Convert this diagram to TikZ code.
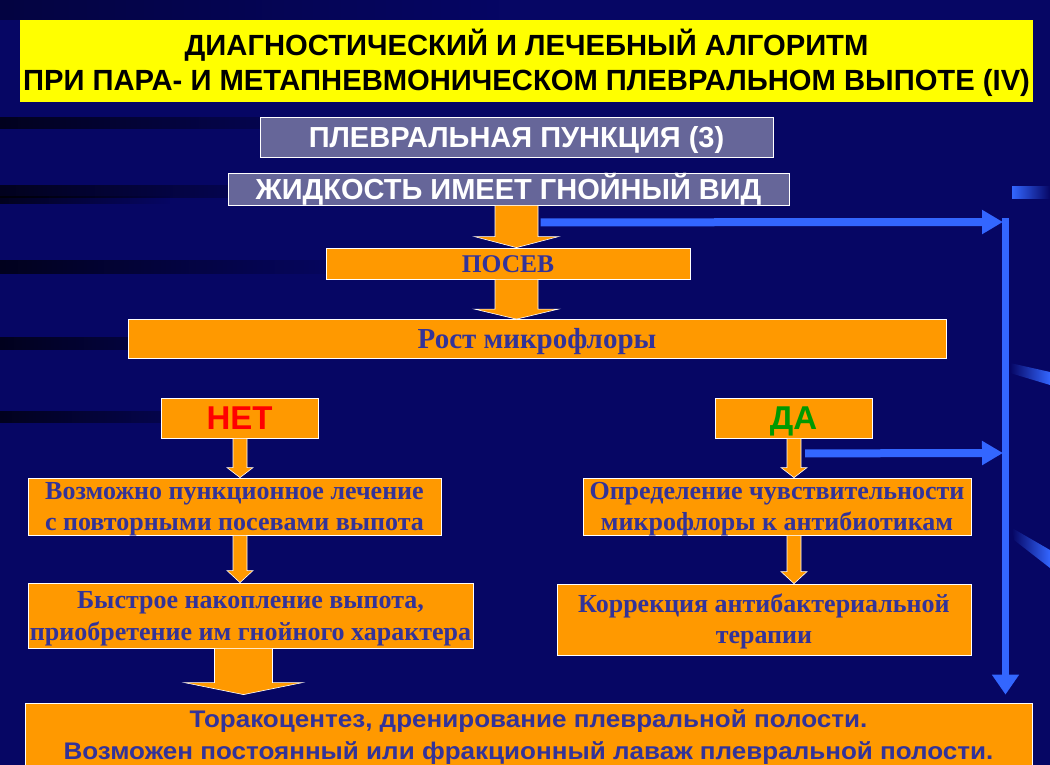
\documentclass[tikz,border=0pt]{standalone}
\usepackage{fontspec}
\usetikzlibrary{calc,arrows.meta,fadings}
\newfontfamily\hsans{Liberation Sans}
\newfontfamily\hsanswide[FakeStretch=1.085]{Liberation Sans}
\newfontfamily\hserif{Liberation Serif}
\definecolor{bgnavy}{RGB}{6,6,100}
\definecolor{orng}{RGB}{255,153,0}
\definecolor{dkblue}{RGB}{51,51,153}
\definecolor{grbox}{RGB}{102,102,153}
\definecolor{arblue}{RGB}{51,102,255}
\definecolor{ttlyellow}{RGB}{255,255,0}
\definecolor{yesgreen}{RGB}{0,153,0}
\tikzset{
  titlebox/.style={fill=ttlyellow, draw=none, inner sep=0pt, align=center, text=black,
    font=\hsans\bfseries\fontsize{29.2}{35}\selectfont, text height=60pt, text depth=0pt},
  graybox/.style={fill=grbox, draw=white, line width=0.8pt, inner sep=0pt, text=white,
    font=\hsans\bfseries\fontsize{29}{30}\selectfont, text height=21pt, text depth=0pt},
  orbox/.style={fill=orng, draw=white, line width=0.8pt, inner sep=0pt, align=center, text=dkblue,
    font=\hserif\bfseries\fontsize{26}{31}\selectfont, text height=48pt, text depth=0pt},
  orone/.style={orbox, text height=17pt, text depth=0pt},
  yesno/.style={orbox, font=\hsans\bfseries\fontsize{33}{33}\selectfont, text height=23.6pt, text depth=0pt},
  finalbox/.style={orbox, font=\hsanswide\bfseries\fontsize{24}{32}\selectfont, text height=46pt, text depth=0pt},
  arrowfill/.style={fill=orng, draw=white, line width=0.6pt, line join=miter},
  bluearrow/.style={draw=arblue, line width=8pt, -{Triangle[length=21pt,width=23pt]}},
  blueline/.style={draw=arblue, line width=7pt, -{Triangle[length=20pt,width=26pt]}},
}
% block arrow: #1 start point, #2 tip point, #3 shaft half width, #4 head half width, #5 head length
\newcommand\blockarrow[5]{%
  \path[arrowfill] let \p1=#1, \p2=#2 in
    (\x2-#3,\y1) -- (\x2+#3,\y1) -- (\x2+#3,\y2+#5) -- (\x2+#4,\y2+#5) -- (\x2,\y2)
    -- (\x2-#4,\y2+#5) -- (\x2-#3,\y2+#5) -- cycle;}
\begin{document}
\begin{tikzpicture}[x=1pt,y=-1pt]
\useasboundingbox (0,0) rectangle (1050,765);
\fill[bgnavy] (0,0) rectangle (1050,765);
% background streaks
\foreach \yy/\ww/\ln in {123/12/380, 192/13/330, 267/14/360, 343/13/290, 417/12/250, 200/8/170} {
  \fill[black, opacity=0.7, path fading=east] (0,\yy-\ww/2) rectangle (\ln,\yy+\ww/2);
}
\fill[black, opacity=0.35, path fading=east] (0,0) rectangle (500,20);
% decorative swooshes at the right edge
\shade[left color=arblue, right color=bgnavy] (1012,187) rectangle (1050,198);
\shade[left color=bgnavy, right color=arblue] (1010,363) -- (1050,372) -- (1050,385) -- (1010,373) -- cycle;
\shade[left color=bgnavy, right color=arblue] (1012,528) -- (1050,550) -- (1050,568) -- (1014,540) -- cycle;

% nodes
\node[titlebox, minimum width=1013, minimum height=82] (title) at (526.5,61)
  {ДИАГНОСТИЧЕСКИЙ И ЛЕЧЕБНЫЙ АЛГОРИТМ\\ПРИ ПАРА- И МЕТАПНЕВМОНИЧЕСКОМ ПЛЕВРАЛЬНОМ ВЫПОТЕ (IV)};
\node[graybox, minimum width=513, minimum height=40] (punc) at (516.5,137) {ПЛЕВРАЛЬНАЯ ПУНКЦИЯ (3)};
\node[graybox, minimum width=561, minimum height=32] (zhid) at (508.5,189) {ЖИДКОСТЬ ИМЕЕТ ГНОЙНЫЙ ВИД};
\node[orone, font=\hserif\bfseries\fontsize{25.5}{30}\selectfont, minimum width=364, minimum height=31] (posev) at (508,263.5) {ПОСЕВ};
\node[orone, font=\hserif\bfseries\fontsize{29}{30}\selectfont, text height=19pt, minimum width=818, minimum height=39] (rost) at (537,339) {Рост микрофлоры};
\node[yesno, minimum width=157, minimum height=40, text=red] (net) at (239.5,418) {НЕТ};
\node[yesno, minimum width=157, minimum height=40, text=yesgreen] (da) at (793.5,418) {ДА};
\node[orbox, minimum width=413, minimum height=57] (voz) at (234.5,506.5)
  {Возможно пункционное лечение\\с повторными посевами выпота};
\node[orbox, minimum width=388, minimum height=57] (opr) at (777,506.5)
  {Определение чувствительности\\микрофлоры к антибиотикам};
\node[orbox, minimum width=445, minimum height=65, font=\hserif\bfseries\fontsize{26}{32}\selectfont, text height=49pt] (bys) at (250.5,615.5)
  {Быстрое накопление выпота,\\приобретение им гнойного характера};
\node[orbox, minimum width=414, minimum height=71] (kor) at (764,619.5)
  {Коррекция антибактериальной\\терапии};
\node[finalbox, minimum width=1007, minimum height=66] (tor) at (528.5,736)
  {Торакоцентез, дренирование плевральной полости.\\Возможен постоянный или фракционный лаваж плевральной полости.};

% orange block arrows
\blockarrow{(zhid.south)}{($(posev.north)+(8.5,0)$)}{21.5}{42}{11}
\blockarrow{(posev.south)}{($(rost.north)+(-20.5,0)$)}{21.5}{42}{10}
\blockarrow{(net.south)}{($(voz.north)+(5.5,0)$)}{7}{13}{10}
\blockarrow{(voz.south)}{($(bys.north)+(-10.5,0)$)}{7}{13}{12}
\blockarrow{(da.south)}{($(opr.north)+(17,0)$)}{7}{13}{10}
\blockarrow{(opr.south)}{($(kor.north)+(30,0)$)}{7}{13}{12}
\blockarrow{(bys.south)}{($(tor.north)+(-285,-8)$)}{29}{59}{12}

% blue arrows
\coordinate (b1s) at ($(zhid.south)+(32,17)$);
\coordinate (b1e) at (1003,222);
\coordinate (b2s) at ($(da.south)+(11.5,15)$);
\coordinate (b2e) at (1003,453);
\coordinate (vtop) at (1005.5,218);
\coordinate (vbot) at ($(tor.north east)+(-27,-8)$);
\draw[bluearrow] (b1s) -- (b1e);
\draw[bluearrow] (b2s) -- (b2e);
\draw[blueline] (vtop) -- (vtop |- vbot);
\end{tikzpicture}
\end{document}
